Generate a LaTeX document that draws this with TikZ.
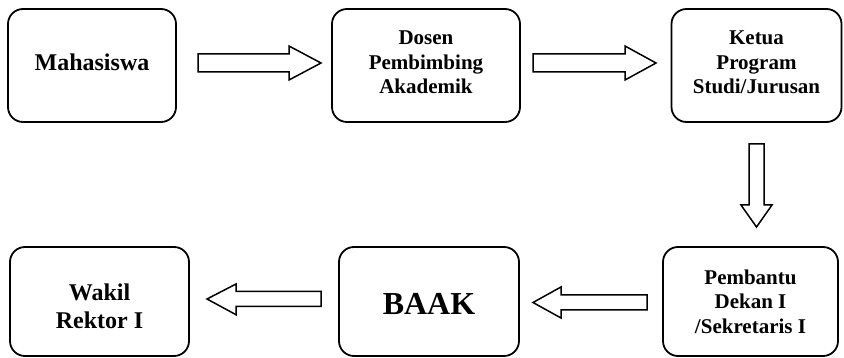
\documentclass[tikz,border=0pt]{standalone}
\usepackage{fontspec}
\setmainfont{Liberation Serif}
\begin{document}
\begin{tikzpicture}[x=1pt,y=-1pt,
  box/.style={draw, line width=1.8pt, rounded corners=15pt, align=center, inner sep=0pt},
  blockarrow/.style={draw, line width=1.5pt, fill=white, line join=miter},
  fA/.style={font=\fontsize{24}{28}\selectfont\bfseries},
  fB/.style={font=\fontsize{21}{24.5}\selectfont\bfseries},
  fC/.style={font=\fontsize{32}{36}\selectfont\bfseries}]
\useasboundingbox (0,0) rectangle (844,358);
% boxes
\node[box, fA, minimum width=168pt, minimum height=113pt] (mah) at (92,65.5) {\raisebox{3pt}[\height][\depth]{Mahasiswa}};
\node[box, fB, minimum width=188pt, minimum height=113pt] (dos) at (426,65.5) {\raisebox{1pt}[\height][\depth]{\begin{tabular}{@{}c@{}}Dosen\\Pembimbing\\Akademik\end{tabular}}};
\node[box, fB, minimum width=170pt, minimum height=113pt] (ket) at (756.5,65.5) {\raisebox{1pt}[\height][\depth]{\begin{tabular}{@{}c@{}}Ketua\\Program\\Studi/Jurusan\end{tabular}}};
\node[box, fB, minimum width=175pt, minimum height=109pt] (pem) at (750.5,301.5) {\fontsize{21}{25}\selectfont Pembantu\\Dekan I\\/Sekretaris I};
\node[box, fC, minimum width=180pt, minimum height=109pt] (baak) at (429,301.5) {\raisebox{-2pt}[\height][\depth]{BAAK}};
\node[box, fA, minimum width=179pt, minimum height=109pt] (wak) at (99.5,301.5) {\raisebox{-7pt}[\height][\depth]{\begin{tabular}{@{}c@{}}Wakil\\Rektor I\end{tabular}}};
% block arrows
\draw[blockarrow] (198,54) -- (289,54) -- (289,46) -- (321,63) -- (289,80) -- (289,72) -- (198,72) -- cycle;
\draw[blockarrow] (533,54) -- (625,54) -- (625,46) -- (656,63) -- (625,80) -- (625,72) -- (533,72) -- cycle;
\draw[blockarrow] (749,144) -- (764,144) -- (764,205) -- (772,205) -- (756.5,227) -- (741,205) -- (749,205) -- cycle;
\draw[blockarrow] (647,295) -- (561,295) -- (561,287) -- (533,302.5) -- (561,318) -- (561,310) -- (647,310) -- cycle;
\draw[blockarrow] (321,291.3) -- (236,291.3) -- (236,284) -- (207,299) -- (236,314.7) -- (236,306.3) -- (321,306.3) -- cycle;
\end{tikzpicture}
\end{document}
